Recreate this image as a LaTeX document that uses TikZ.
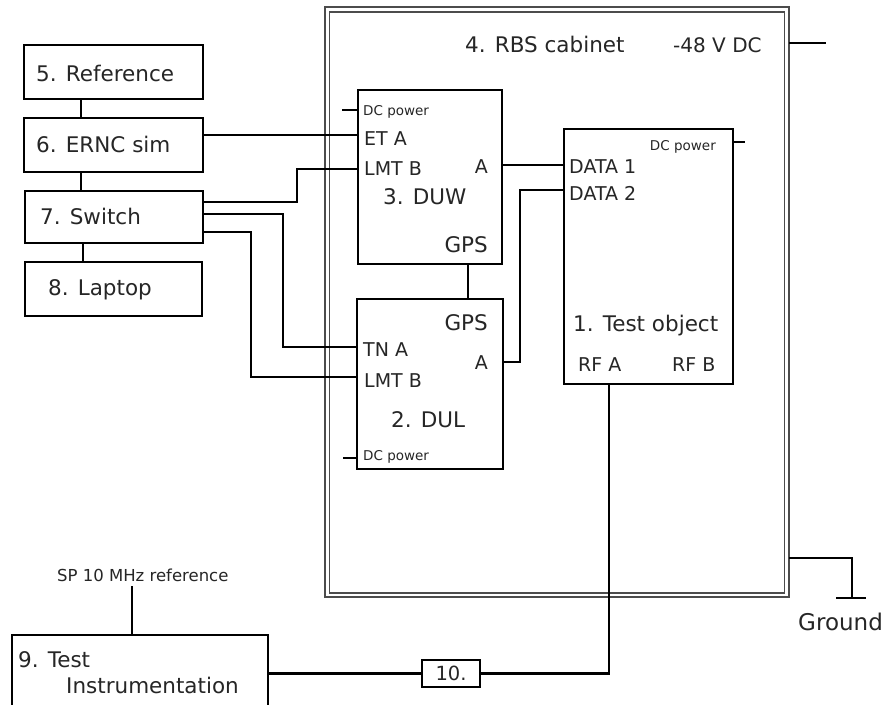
\documentclass[tikz,border=0pt]{standalone}
\usepackage{fontspec}
\setmainfont{DejaVu Sans}
\begin{document}
\begin{tikzpicture}[x=1pt,y=-1pt,
  box/.style={draw, line width=2.3pt, inner sep=0pt, anchor=north west},
  wire/.style={draw, line width=2.3pt},
  cabline/.style={draw=black!70, line width=1.3pt},
  big/.style={font=\fontsize{21.5}{24}\selectfont, inner sep=0pt, anchor=base west, text=black!85},
  port/.style={font=\fontsize{19}{22}\selectfont, inner sep=0pt, anchor=base west, text=black!85},
  tiny/.style={font=\fontsize{13.5}{15}\selectfont, inner sep=0pt, anchor=base west, text=black!85},
  mid/.style={font=\fontsize{16.5}{19}\selectfont, inner sep=0pt, anchor=base west, text=black!85}]
\clip (0,0) rectangle (890,704);
\fill[white] (0,0) rectangle (890,704);

% cabinet double border
\draw[cabline] (325,7) rectangle (789,597);
\draw[cabline] (329.5,12) rectangle (784.5,593);
\coordinate (cabE1) at (789,43);
\coordinate (cabE2) at (789,558);
\node[big] (cabt) at (465,52) {4. RBS cabinet};
\node[port, font=\fontsize{20}{22}\selectfont] (dc48) at (673,52) {-48 V DC};

% left boxes
\node[box, minimum width=179pt, minimum height=54pt] (ref) at (23,44) {};
\node[box, minimum width=179pt, minimum height=54pt] (ernc) at (23,117) {};
\node[box, minimum width=178pt, minimum height=52pt] (sw) at (24,190) {};
\node[box, minimum width=177pt, minimum height=54pt] (lap) at (24,261) {};
\node[big] (reft) at (36,81) {5. Reference};
\node[big] (ernct) at (36,152) {6. ERNC sim};
\node[big] (swt) at (40,224) {7. Switch};
\node[big] (lapt) at (48,295) {8. Laptop};

% DUW
\node[box, minimum width=144pt, minimum height=174pt] (duw) at (357,89) {};
\node[tiny] (duwdc) at (363,115) {DC power};
\node[port] (duweta) at (364,145) {ET A};
\node[port] (duwlmt) at (364,175) {LMT B};
\node[port, anchor=base east] (duwa) at (488,173) {A};
\node[big] (duwt) at (383,204) {3. DUW};
\node[big, anchor=base east] (duwgps) at (488,252) {GPS};

% DUL
\node[box, minimum width=146pt, minimum height=170pt] (dul) at (356,298) {};
\node[big, anchor=base east] (dulgps) at (488,330) {GPS};
\node[port] (dultn) at (363,356) {TN A};
\node[port] (dullmt) at (364,387) {LMT B};
\node[port, anchor=base east] (dula) at (488,369) {A};
\node[big] (dult) at (391,427) {2. DUL};
\node[tiny] (duldc) at (363,460) {DC power};

% Test object
\node[box, minimum width=169pt, minimum height=255pt] (tobj) at (563,128) {};
\node[tiny, anchor=base east] (tobjdc) at (716,150) {DC power};
\node[port] (d1) at (569,173) {DATA 1};
\node[port] (d2) at (569,200) {DATA 2};
\node[big] (tobjt) at (573,331) {1. Test object};
\node[port] (rfa) at (578,371) {RF A};
\node[port] (rfb) at (672,371) {RF B};

% bottom
\node[box, minimum width=256pt, minimum height=80pt] (b9) at (11,634) {};
\node[big] (b9a) at (18,667) {9. Test};
\node[big] (b9b) at (66,693) {Instrumentation};
\node[box, minimum width=58pt, minimum height=27pt, line width=2pt] (b10) at (421,659) {};
\node[port, anchor=center, font=\fontsize{19.5}{22}\selectfont] (b10t) at (b10.center) {10.};
\node[mid] (spref) at (57,581) {SP 10 MHz reference};
\node[big, font=\fontsize{23}{26}\selectfont] (gnd) at (798,630) {Ground};

% port coordinates
\coordinate (pEtA) at (357,135);
\coordinate (pLmtW) at (357,169);
\coordinate (pDuwA) at (501,165);
\coordinate (pData1) at (563,165);
\coordinate (pData2) at (563,190);
\coordinate (pDulA) at (502,362);
\coordinate (pTnA) at (356,347);
\coordinate (pLmtL) at (356,377);
\coordinate (pRfA) at (609,383);
\coordinate (s1) at (202,202);
\coordinate (s2) at (202,214);
\coordinate (s3) at (202,232);

% wires
\draw[wire] ([xshift=58pt]ref.south west) -- ([xshift=58pt]ernc.north west);
\draw[wire] ([xshift=58pt]ernc.south west) -- ([xshift=57pt]sw.north west);
\draw[wire] ([xshift=59pt]sw.south west) -- ([xshift=59pt]lap.north west);
\draw[wire] (pEtA -| ernc.east) -- (pEtA);
\draw[wire] (s1) -- ++(95,0) |- (pLmtW);
\draw[wire] (s2) -- ++(81,0) |- (pTnA);
\draw[wire] (s3) -- ++(49,0) |- (pLmtL);
\draw[wire] (pDuwA) -- (pData1);
\draw[wire] (pDulA) -- ++(18,0) |- (pData2);
\draw[wire] (duw.south -| 468,0) -- (dul.north -| 468,0);
\draw[wire] (pRfA) |- (b10.east);
\draw[wire] (b10.west) -- (b10.west -| b9.east);
\draw[wire] ([xshift=121pt]b9.north west) -- ++(0,-48);
% DC stubs
\draw[wire] ([yshift=-21pt]duw.north west) -- ++(-15,0);
\draw[wire] ([yshift=12pt]dul.south west) -- ++(-13,0);
\draw[wire] ([yshift=-14pt]tobj.north east) -- ++(11,0);
% -48 V and ground
\draw[wire] (cabE1) -- ++(37,0);
\draw[wire] (cabE2) -- ++(63,0) coordinate (g1) -- ++(0,40) coordinate (g2);
\draw[wire] ([xshift=-16pt]g2) -- ([xshift=14pt]g2);
\end{tikzpicture}
\end{document}
